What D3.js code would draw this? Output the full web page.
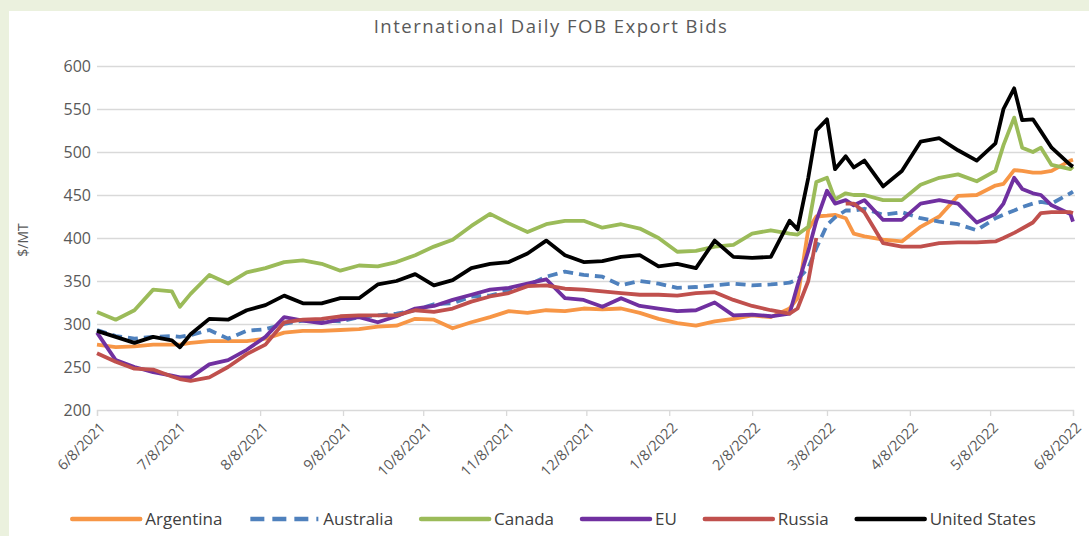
<!DOCTYPE html>
<html>
<head>
<meta charset="utf-8">
<script src="https://cdn.jsdelivr.net/npm/d3@7"></script>
<style>
  html, body { margin: 0; padding: 0; background: #ebf1de; }
  svg { display: block; font-family: "Open Sans", sans-serif; }
</style>
</head>
<body>
<div id="chart"></div>
<script>
const W = 1089, H = 536;
const margin = { top: 66, right: 16, bottom: 126, left: 97 };

const title = "International Daily FOB Export Bids";
const yLabel = "$/MT";
const yTicks = [200, 250, 300, 350, 400, 450, 500, 550, 600];
const tickLabels = ["6/8/2021", "7/8/2021", "8/8/2021", "9/8/2021", "10/8/2021", "11/8/2021",
  "12/8/2021", "1/8/2022", "2/8/2022", "3/8/2022", "4/8/2022", "5/8/2022", "6/8/2022"];

const dates = ["6/8/2021", "6/15/2021", "6/22/2021", "6/29/2021", "7/6/2021", "7/9/2021", "7/13/2021", "7/20/2021",
  "7/27/2021", "8/3/2021", "8/10/2021", "8/17/2021", "8/24/2021", "8/31/2021", "9/7/2021", "9/14/2021",
  "9/21/2021", "9/28/2021", "10/5/2021", "10/12/2021", "10/19/2021", "10/26/2021", "11/2/2021",
  "11/9/2021", "11/16/2021", "11/23/2021", "11/30/2021", "12/7/2021", "12/14/2021", "12/21/2021",
  "12/28/2021", "1/4/2022", "1/11/2022", "1/18/2022", "1/25/2022", "2/1/2022", "2/8/2022", "2/15/2022",
  "2/22/2022", "2/25/2022", "3/1/2022", "3/4/2022", "3/8/2022", "3/11/2022", "3/15/2022", "3/18/2022",
  "3/22/2022", "3/29/2022", "4/5/2022", "4/12/2022", "4/19/2022", "4/26/2022", "5/3/2022", "5/10/2022",
  "5/13/2022", "5/17/2022", "5/20/2022", "5/24/2022", "5/27/2022", "5/31/2022", "6/7/2022", "6/8/2022"];

const argentina = [276, 273, 274, 276, 276, 276, 278, 280, 280, 280, 283, 290, 292, 292, 293, 294, 297, 298,
  306, 305, 295, 302, 308, 315, 313, 316, 315, 318, 317, 318, 313, 306, 301, 298, 303, 306, 310, 308, 318,
  330, 410, 425, 426, 427, 423, 405, 402, 398, 396, 413, 425, 449, 450, 461, 463, 479, 478, 476, 476, 478, 490, 491];
const australia = [293, 286, 283, 285, 286, 285, 287, 293, 283, 292, 294, 300, 304, 304, 303, 308, 310, 312,
  316, 323, 324, 332, 333, 339, 345, 355, 361, 357, 355, 345, 350, 347, 342, 343, 345, 347, 345, 346, 348,
  352, 365, 388, 415, 424, 432, 432, 434, 427, 430, 423, 419, 416, 409, 423, 427, 432, 436, 440, 442, 440, 452, 454];
const canada = [314, 305, 316, 340, 338, 320, 335, 357, 347, 360, 365, 372, 374, 370, 362, 368, 367, 372,
  380, 390, 398, 414, 428, 417, 407, 416, 420, 420, 412, 416, 411, 400, 384, 385, 390, 392, 405, 409, 405,
  404, 413, 465, 470, 445, 452, 450, 450, 444, 444, 462, 470, 474, 466, 478, 508, 540, 505, 500, 505, 485, 480, 483];
const eu = [290, 258, 250, 244, 240, 238, 238, 253, 258, 270, 285, 308, 304, 301, 305, 308, 302, 309,
  318, 321, 328, 334, 340, 342, 347, 352, 330, 328, 320, 330, 321, 318, 315, 316, 325, 310, 311, 309, 312,
  345, 385, 420, 455, 440, 444, 438, 444, 421, 421, 440, 444, 440, 418, 428, 440, 470, 457, 452, 450, 438, 428, 419];
const russia = [266, 256, 248, 247, 239, 236, 234, 238, 250, 265, 276, 302, 305, 306, 309, 310, 310, 310,
  316, 314, 318, 326, 332, 336, 344, 345, 341, 340, 338, 336, 334, 334, 333, 336, 337, 328, 321, 316, 312,
  318, 350, 400, null, null, 440, 440, 430, 394, 390, 390, 394, 395, 395, 396, 400, 406, 411, 418, 429, 430, 430, 429];
const unitedStates = [292, 285, 278, 285, 281, 273, 288, 306, 305, 316, 322, 333, 324, 324, 330, 330, 346, 350,
  358, 345, 351, 365, 370, 372, 382, 397, 380, 372, 373, 378, 380, 367, 370, 365, 397, 378, 377, 378, 420,
  410, 470, 525, 538, 480, 495, 482, 490, 460, 478, 512, 516, 502, 490, 510, 550, 574, 537, 538, 524, 505, 485, 483];

const series = [
  { name: "Argentina", values: argentina, color: "#f79646", dash: null },
  { name: "Australia", values: australia, color: "#4f81bd", dash: "10,6" },
  { name: "Canada", values: canada, color: "#9bbb59", dash: null },
  { name: "EU", values: eu, color: "#7030a0", dash: null },
  { name: "Russia", values: russia, color: "#c0504d", dash: null },
  { name: "United States", values: unitedStates, color: "#000000", dash: null }
];

const parse = d3.timeParse("%m/%d/%Y");
const xDates = dates.map(parse);

const height = 410 - margin.top;

const x = d3.scaleTime()
  .domain([parse(tickLabels[0]), parse(tickLabels[tickLabels.length - 1])])
  .range([0, 976]);
const y = d3.scaleLinear().domain([200, 600]).range([height, 0]);

const svg = d3.select("#chart").append("svg")
  .attr("width", W).attr("height", H);

// white chart panel on the green page
svg.append("rect").attr("x", 9).attr("y", 11).attr("width", W - 9).attr("height", H - 11)
  .attr("fill", "#ffffff");

svg.append("text")
  .attr("x", 551).attr("y", 33)
  .attr("text-anchor", "middle")
  .attr("fill", "#595959")
  .style("font-size", "18.5px")
  .style("letter-spacing", "1.5px")
  .text(title);

const g = svg.append("g").attr("transform", "translate(" + margin.left + "," + margin.top + ")");

// gridlines
g.append("g")
  .call(d3.axisLeft(y).tickValues(yTicks.slice(1)).tickSize(-978).tickFormat(""))
  .call(s => s.select(".domain").remove())
  .call(s => s.selectAll("line").attr("stroke", "#d9d9d9").attr("stroke-width", 1.3));

// y axis labels
g.append("g")
  .call(d3.axisLeft(y).tickValues(yTicks).tickSize(0).tickPadding(6))
  .call(s => s.select(".domain").remove())
  .call(s => s.selectAll("text").attr("fill", "#595959").style("font-size", "16px")
    .style("font-family", "'Open Sans', sans-serif"));

// x axis
const xAxis = g.append("g")
  .attr("transform", "translate(0," + height + ")")
  .call(d3.axisBottom(x).tickValues(tickLabels.map(parse)).tickFormat((d, i) => tickLabels[i]).tickSize(6));
xAxis.select(".domain").attr("stroke", "#d9d9d9").attr("stroke-width", 1.3);
xAxis.selectAll("line").attr("stroke", "#d9d9d9").attr("stroke-width", 1.3);
xAxis.selectAll("text")
  .attr("fill", "#595959")
  .style("font-size", "14.5px")
  .style("font-family", "'Open Sans', sans-serif")
  .attr("text-anchor", "end")
  .attr("x", 0).attr("y", 0).attr("dy", "0.35em")
  .attr("transform", "translate(5,15) rotate(-45)");

svg.append("text")
  .attr("transform", "translate(28,240) rotate(-90)")
  .attr("text-anchor", "middle")
  .attr("fill", "#595959")
  .style("font-size", "14px")
  .text(yLabel);

const line = d3.line()
  .defined(d => d.v != null)
  .x(d => x(d.date))
  .y(d => y(d.v));

series.forEach(s => {
  const pts = s.values.map((v, i) => ({ date: xDates[i], v: v }));
  g.append("path")
    .datum(pts)
    .attr("fill", "none")
    .attr("stroke", s.color)
    .attr("stroke-width", 3.8)
    .attr("stroke-linejoin", "round")
    .attr("stroke-dasharray", s.dash)
    .attr("d", line);
});

// legend
const legend = svg.append("g").attr("transform", "translate(0,519)");
let cx = 0;
series.forEach(s => {
  const item = legend.append("g").attr("transform", "translate(" + cx + ",0)");
  item.append("line")
    .attr("x1", 0).attr("x2", 68).attr("y1", 0).attr("y2", 0)
    .attr("stroke", s.color).attr("stroke-width", 4.5)
    .attr("stroke-linecap", s.dash ? "butt" : "round")
    .attr("stroke-dasharray", s.dash ? "14,8" : null);
  const t = item.append("text")
    .attr("x", 73).attr("y", 0).attr("dy", "0.35em")
    .attr("fill", "#404040")
    .style("font-size", "17px")
    .text(s.name);
  cx += 73 + t.node().getComputedTextLength() + 28;
});
const total = cx - 28;
legend.attr("transform", "translate(" + (554 - total / 2) + ",519)");
</script>
</body>
</html>
